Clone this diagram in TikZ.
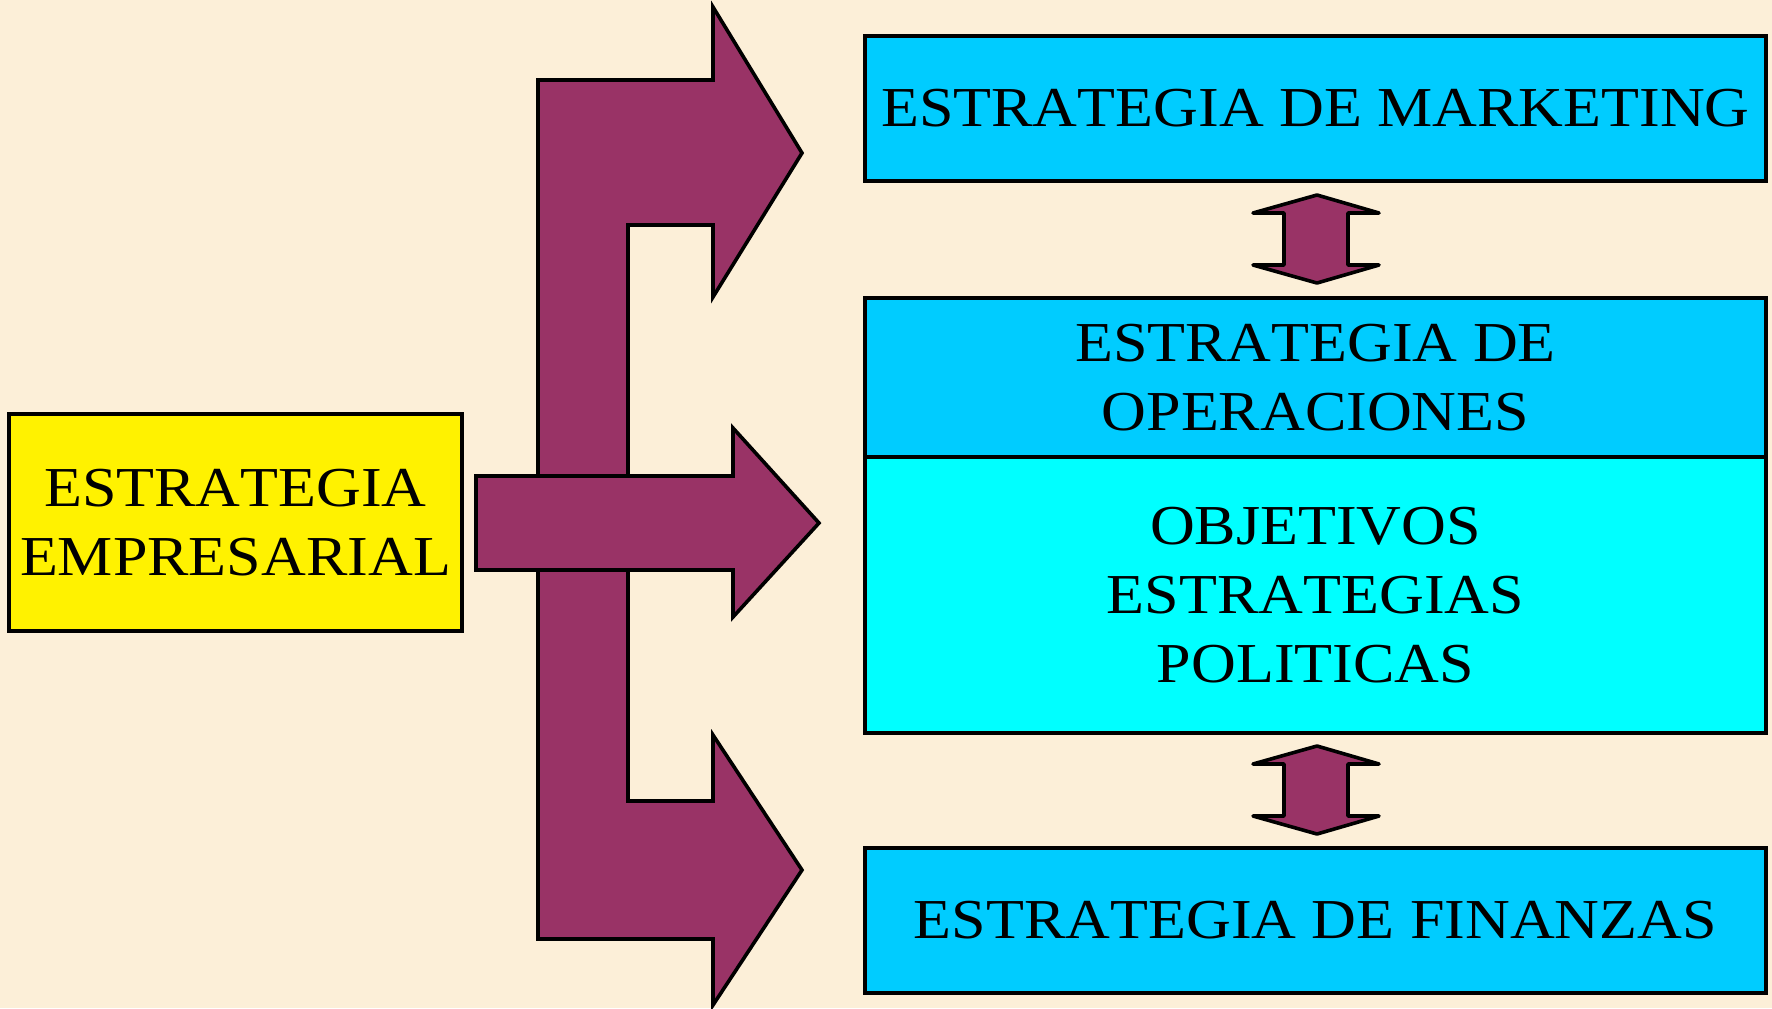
\documentclass[tikz,border=0pt]{standalone}
\usepackage{fontspec}
\setmainfont{Liberation Serif}[FakeStretch=1.1,Kerning=Off]
\definecolor{papel}{HTML}{FCEFD8}
\definecolor{vino}{HTML}{993366}
\definecolor{celeste}{HTML}{00CCFF}
\definecolor{turquesa}{HTML}{00FFFF}
\begin{document}
\begin{tikzpicture}[x=0.5pt, y=-0.5pt,
	caja/.style={draw=black, line width=1.8pt, inner sep=0pt, align=center,
		font=\fontsize{28.2}{34.5}\selectfont},
	flecha/.style={draw=black, fill=vino, line width=1.8pt, line join=miter},
	dobleflecha/.style={flecha, line join=round}]
	\fill[papel] (0,0) rectangle (1772,1008);

	\draw node[caja, fill=yellow, minimum width=226.5pt, minimum height=108.5pt] (emp) at (235.5,522.5) {ESTRATEGIA\\EMPRESARIAL};
	\draw node[caja, fill=celeste, minimum width=450.5pt, minimum height=72.5pt] (mkt) at (1315.5,108.5) {ESTRATEGIA DE MARKETING};
	\draw node[caja, fill=celeste, minimum width=450.5pt, minimum height=79.5pt] (ope) at (1315.5,377.5) {ESTRATEGIA DE\\OPERACIONES};
	\draw node[caja, fill=turquesa, minimum width=450.5pt, minimum height=138pt] (obj) at (1315.5,595) {OBJETIVOS\\ESTRATEGIAS\\POLITICAS};
	\draw node[caja, fill=celeste, minimum width=450.5pt, minimum height=72.5pt] (fin) at (1315.5,920.5) {ESTRATEGIA DE FINANZAS};

	% flecha grande
	\draw[flecha] (538,80) -- (713,80) -- (713,7) -- (802,153) -- (713,297) -- (713,225) -- (628,225)
		-- (628,801) -- (713,801) -- (713,735) -- (802,870) -- (713,1005) -- (713,939) -- (538,939) -- cycle;
	\draw[flecha] (476,476) -- (733,476) -- (733,428) -- (819,523) -- (733,617) -- (733,570) -- (476,570) -- cycle;

	% flechas dobles
	\foreach \y in {239,790} {
		\draw[dobleflecha, shift={(1317,\y)}] (0,-44) -- (62,-26) -- (31,-26) -- (31,26) -- (62,26) -- (0,44)
			-- (-64,26) -- (-33,26) -- (-33,-26) -- (-64,-26) -- cycle;
	}
\end{tikzpicture}
\end{document}
